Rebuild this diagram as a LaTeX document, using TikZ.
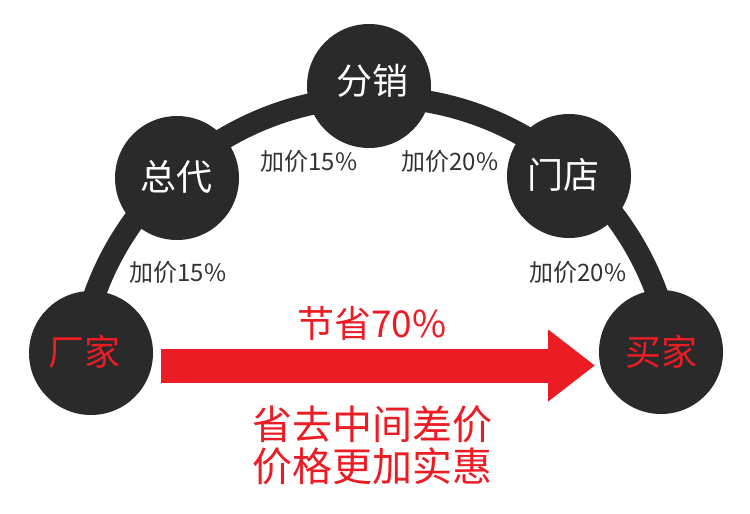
\documentclass[tikz,border=0pt]{standalone}
\usepackage{fontspec}
\setmainfont{Noto Sans CJK SC}
\usetikzlibrary{arrows.meta}
\definecolor{disk}{RGB}{42,42,42}
\definecolor{hot}{RGB}{235,28,36}
\definecolor{txt}{RGB}{51,51,51}
\tikzset{
  disc/.style={circle, fill=disk, minimum size=124pt, inner sep=0pt},
  disctext/.style={font=\fontsize{36}{40}\selectfont, inner sep=0pt},
  price/.style={font=\fontsize{24}{28}\selectfont, text=txt, inner sep=0pt},
  band/.style={draw=disk, line width=22pt},
  bigred/.style={font=\fontsize{40}{44}\selectfont, text=hot, inner sep=0pt},
  savearrow/.style={draw=hot, line width=34pt, -{Triangle[length=47pt,width=69pt]}},
}
\begin{document}
\begin{tikzpicture}[x=1pt,y=-1pt]
\useasboundingbox (0,0) rectangle (750,514);
\fill[white] (0,0) rectangle (750,514);
\coordinate (arcc) at (376,396);
\draw[band] ([shift={(-170:299)}]arcc) arc[start angle=-170,end angle=-10,radius=299];

\node[disc] (cj) at (91,353) {};
\node[disc] (zd) at (177,178) {};
\node[disc] (fx) at (369,86) {};
\node[disc] (md) at (569,176) {};
\node[disc] (mj) at (661,352) {};

\node[disctext, text=hot] (cjt) at (84,352) {厂家};
\node[disctext, text=white] (zdt) at (176,177) {总代};
\node[disctext, text=white] (fxt) at (372,81) {分销};
\node[disctext, text=white] (mdt) at (563,175) {门店};
\node[disctext, text=hot] (mjt) at (661,352) {买家};

\node[price] (p1) at (178,272) {加价15\%};
\node[price] (p2) at (309,161) {加价15\%};
\node[price] (p3) at (450,161) {加价20\%};
\node[price] (p4) at (578,272) {加价20\%};

\coordinate (aS) at (161,365.5);
\coordinate (aT) at (595,365.5);
\draw[savearrow] (aS) -- (aT);

\node[font=\fontsize{37}{40}\selectfont, text=hot, inner sep=0pt] (save) at (372,323) {节省70\%};
\node[bigred] (l1) at (372.5,424.5) {省去中间差价};
\node[bigred] (l2) at (372.5,466) {价格更加实惠};
\end{tikzpicture}
\end{document}
